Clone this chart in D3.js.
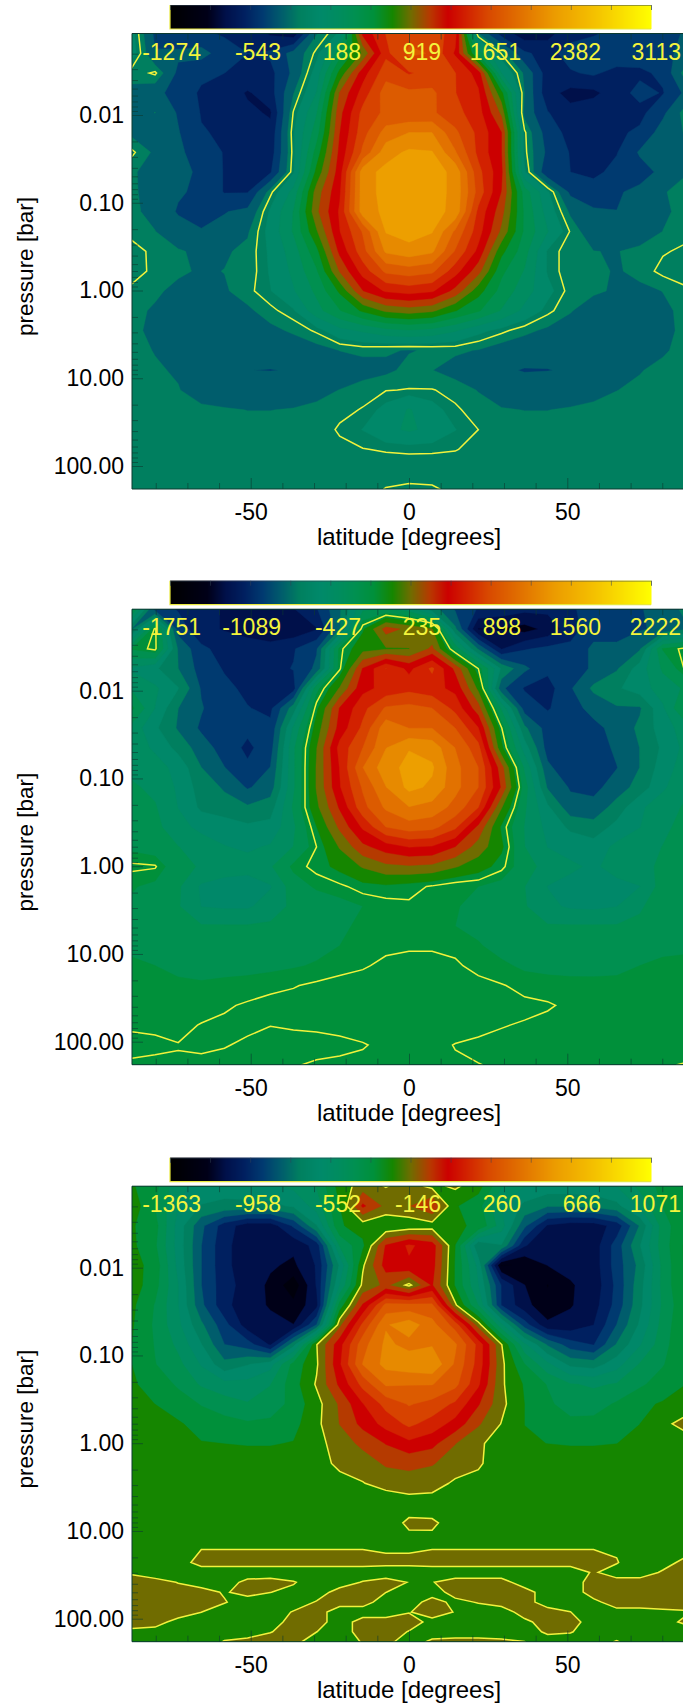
<!DOCTYPE html>
<html>
<head>
<meta charset="utf-8">
<script src="https://cdnjs.cloudflare.com/ajax/libs/d3/7.8.5/d3.min.js"></script>
<style>
  html, body { margin: 0; padding: 0; background: #fff; overflow: hidden; }
  text { font-family: "Liberation Sans", Arial, sans-serif; }
</style>
</head>
<body>
<div id="chart"></div>
<script>
/* grid the fields are read on */
const latitudes = [-87.5,-80.2,-72.9,-65.6,-58.3,-51,-43.8,-36.5,-29.2,-21.9,-14.6,-7.3,0,7.3,14.6,21.9,29.2,36.5,43.8,51,58.3,65.6,72.9,80.2,87.5];
const pressures = [0.00118,0.00198,0.00333,0.0056,0.0094,0.0158,0.0266,0.0447,0.0752,0.126,0.213,0.358,0.602,1.01,1.70,2.86,4.81,8.09,13.6,22.9,38.5,64.7,109,183];
// the bottom panel has thin layers, so it is read on a few more levels
const pressuresFine = [0.00118,0.00198,0.00333,0.0056,0.0094,0.0158,0.0266,0.0447,0.0752,0.126,0.213,0.358,0.602,1.01,1.70,2.86,4.81,8.09,13.6,22.9,29.7,38.5,49.9,64.7,84,109,141,183];

const latTicks = [-50,0,50];
const latMinor = [-80,-70,-60,-40,-30,-20,-10,10,20,30,40,60,70,80];
const pressureTicks = [0.01,0.1,1,10,100];

const labels1 = [-1274,-543,188,919,1651,2382,3113];
const labels2 = [-1751,-1089,-427,235,898,1560,2222];
const labels3 = [-1363,-958,-552,-146,260,666,1071];

/* value the yellow line follows in each panel */
const lineLevels = [0,0,-146];

const field1 = [
[120,-300,-380,-400,-450,-500,-620,-700,-100,100,1300,1600,1700,1700,1500,-100,-500,-700,-650,-500,-450,-380,-350,-300,-250],
[150,-250,-230,-200,-350,-430,-400,-200,30,500,950,1550,1800,1750,1400,500,-10,-400,-500,-350,-300,-280,-350,-300,-220],
[-60,20,-300,-400,-430,-450,-480,-220,150,800,1350,1700,1580,1650,1600,1350,250,-120,-520,-450,-400,-500,-460,-400,-10],
[-120,-200,-350,-450,-480,-620,-500,-100,250,1100,1500,1850,1800,1800,1600,1450,800,-100,-540,-650,-640,-500,-380,-440,-220],
[-150,-90,-280,-440,-500,-560,-620,10,400,1200,1650,1800,1780,1790,1650,1500,1050,-150,-420,-550,-480,-460,-480,-300,-20],
[-130,-180,-250,-420,-450,-500,-550,60,500,1250,1700,2000,2100,2100,1800,1550,1260,20,-350,-480,-560,-460,-400,-180,-80],
[20,-120,-230,-340,-440,-480,-520,40,650,1300,1800,2200,2300,2280,1950,1550,1260,30,-300,-440,-480,-440,-240,-150,-100],
[-70,-170,-200,-300,-440,-470,-450,60,800,1350,2200,2320,2350,2350,2220,1650,1300,100,-400,-430,-470,-380,-330,-220,-100],
[-50,-210,-240,-300,-440,-440,-30,300,1000,1400,2200,2320,2350,2350,2220,1700,1250,500,100,-300,-350,-280,-220,-100,-60],
[-70,-130,-280,-320,-270,-220,100,420,1050,1450,2200,2300,2350,2320,2230,1550,1150,550,170,-120,-240,-260,-220,-130,-30],
[-50,-90,-180,-250,-210,-110,130,430,900,1420,1780,2280,2350,2280,1900,1500,1050,550,250,-10,-200,-240,-200,-90,-30],
[60,-40,-80,-120,-110,-60,100,330,700,1300,1700,2130,2200,2130,1750,1380,800,480,60,-60,-90,-100,-50,-10,20],
[70,-40,-70,-110,-90,-60,90,280,560,1100,1500,1800,1850,1800,1500,1150,620,400,60,-60,-50,-110,-50,30,60],
[-40,-70,-130,-140,-110,-30,70,230,450,780,1250,1450,1500,1450,1200,820,520,320,120,-40,-60,-120,-130,-90,-20],
[-60,-110,-200,-210,-180,-120,-30,60,350,570,780,950,1000,950,760,600,400,200,30,-80,-200,-220,-220,-120,-60],
[-60,-130,-220,-230,-220,-190,-130,-70,20,190,270,360,400,360,260,120,30,-60,-120,-180,-210,-230,-240,-130,-60],
[-50,-100,-200,-230,-240,-230,-210,-190,-150,-90,-60,-80,-100,-80,-70,-100,-170,-190,-220,-230,-230,-220,-200,-110,-50],
[-50,-75,-110,-200,-230,-260,-265,-255,-230,-200,-160,-120,-60,-90,-150,-200,-240,-270,-265,-250,-220,-180,-100,-60,-50],
[-60,-70,-85,-170,-190,-200,-190,-170,-140,-90,-30,-5,5,5,-30,-100,-150,-190,-190,-170,-140,-95,-70,-60,-60],
[-50,-50,-55,-60,-80,-95,-95,-85,-60,-20,5,120,260,130,15,-40,-85,-95,-95,-80,-60,-55,-50,-50,-50],
[-50,-50,-50,-50,-50,-50,-50,-50,-40,10,80,200,270,200,80,0,-40,-50,-50,-50,-50,-50,-50,-50,-50],
[-50,-50,-50,-50,-50,-50,-50,-50,-40,-20,-5,10,15,15,5,-30,-40,-50,-50,-50,-50,-50,-50,-50,-50],
[-55,-55,-55,-55,-55,-55,-55,-55,-55,-55,-55,-60,-50,-60,-55,-55,-55,-55,-55,-55,-55,-55,-55,-55,-55],
[-50,-50,-50,-50,-50,-50,-50,-50,-50,-50,-50,5,20,15,-30,-50,-50,-50,-50,-50,-50,-50,-50,-50,-50]
];

const field2 = [
[-50,-900,-1000,-1100,-1150,-1200,-1200,-1150,-1000,-700,-250,-200,-300,-600,-850,-1000,-1050,-1100,-1100,-1000,-950,-900,-850,-750,-650],
[-700,30,-900,-1100,-1150,-1250,-1300,-1250,-1150,-700,60,450,350,250,-650,-1300,-1300,-1350,-1250,-1050,-900,-900,-850,-800,-700],
[-60,30,-700,-950,-1050,-1000,-1050,-1000,-850,-30,180,220,230,420,-120,-700,-1150,-1000,-950,-950,-800,-800,-700,-60,30],
[-400,-500,-680,-900,-1000,-1100,-1030,-980,-800,-20,550,850,650,880,500,0,-550,-800,-950,-950,-800,-700,-450,-200,20],
[-250,-350,-520,-850,-950,-1020,-1020,-1050,-120,250,650,740,800,750,650,200,-800,-1000,-1050,-850,-650,-550,-450,-300,-200],
[-40,-380,-680,-820,-950,-980,-1020,-600,50,550,800,1020,1050,1000,800,450,-250,-900,-1000,-900,-780,-700,-700,-400,-30],
[-280,-500,-700,-860,-950,-950,-950,-350,150,600,880,1250,1150,1150,1000,700,10,-650,-900,-950,-880,-780,-650,-450,-300],
[-300,-400,-580,-760,-900,-1020,-900,-250,230,750,1000,1300,1450,1400,1150,900,120,-450,-900,-950,-930,-800,-680,-500,-330],
[-270,-320,-420,-680,-830,-960,-830,-250,250,700,1150,1400,1500,1480,1200,1000,450,-250,-800,-950,-980,-840,-680,-450,-300],
[-200,-260,-400,-600,-700,-850,-760,-250,250,680,1020,1300,1500,1430,1200,1000,520,-150,-700,-850,-880,-760,-620,-400,-260],
[-180,-210,-380,-560,-620,-660,-600,-200,200,560,950,1180,1300,1250,1100,850,250,-200,-500,-780,-780,-620,-400,-300,-200],
[-130,-180,-320,-420,-440,-500,-480,-250,80,420,720,1000,1080,1050,880,500,60,-230,-420,-560,-620,-480,-380,-250,-180],
[-100,-140,-220,-290,-370,-400,-360,-220,0,250,500,620,700,680,540,320,110,-220,-380,-430,-460,-340,-280,-220,-160],
[20,10,-170,-240,-300,-320,-240,-40,30,120,250,350,370,350,250,150,30,-160,-280,-350,-400,-320,-260,-200,-130],
[-60,-100,-200,-400,-440,-450,-390,-140,-50,-20,40,60,30,-10,-60,-70,-120,-220,-380,-420,-440,-420,-380,-150,-90],
[-90,-160,-210,-380,-400,-400,-300,-190,-160,-110,-70,-40,-15,-20,-60,-110,-170,-210,-340,-400,-410,-380,-250,-110,-90],
[-130,-170,-200,-210,-210,-210,-200,-170,-100,-80,-60,-60,-70,-70,-70,-100,-180,-200,-210,-210,-210,-210,-180,-150,-120],
[-90,-110,-130,-150,-160,-160,-150,-130,-100,-70,-30,-20,-15,-15,-25,-60,-110,-150,-160,-160,-150,-130,-110,-90,-85],
[-55,-70,-90,-100,-100,-100,-95,-80,-60,-30,-10,20,40,40,15,-30,-50,-90,-100,-100,-95,-90,-70,-55,-50],
[-40,-50,-55,-60,-50,-40,-20,-5,15,30,40,50,60,60,50,30,5,-20,-35,-45,-50,-50,-45,-40,-40],
[-30,-30,-30,-25,-10,10,25,30,30,35,35,40,40,40,40,35,30,15,8,-15,-25,-30,-30,-30,-30],
[-5,-5,-15,3,15,10,1,5,8,12,20,25,30,30,25,15,3,-5,-20,-30,-30,-30,-30,-30,-30],
[10,5,2,8,3,-8,-15,-15,-15,-10,-3,10,20,15,-2,-10,-15,-20,-25,-25,-25,-25,-25,-25,-25],
[-5,-5,-5,-10,-15,-15,-15,-3,5,8,10,12,12,10,6,1,-5,-10,-10,-10,-10,-10,-10,-5,3]
];

const field3 = [
[-230,-300,-500,-550,-570,-560,-540,-500,-420,-200,-100,-150,-100,-170,-130,-200,-420,-520,-560,-560,-560,-520,-400,-300,-270],
[-180,-340,-520,-620,-640,-640,-640,-600,-480,-240,60,-80,-60,40,-230,-300,-520,-640,-700,-700,-680,-640,-500,-330,-260],
[-230,-300,-560,-780,-940,-1040,-1040,-880,-620,-250,-200,-230,-210,-190,-230,-250,-480,-780,-1000,-1040,-1040,-950,-700,-380,-250],
[-220,-320,-560,-800,-960,-1050,-1060,-1060,-950,-420,-260,50,150,90,-240,-700,-620,-980,-1060,-1060,-1040,-850,-620,-380,-220],
[-200,-280,-550,-800,-960,-1050,-1070,-1100,-980,-600,-160,80,120,80,-250,-550,-1180,-1170,-1080,-1060,-1040,-850,-680,-400,-220],
[-190,-300,-520,-800,-950,-1030,-1100,-1240,-980,-520,-120,-30,-170,50,-250,-520,-900,-1080,-1180,-1090,-1050,-870,-650,-400,-220],
[-220,-340,-520,-780,-960,-1050,-1090,-1150,-1020,-300,50,350,350,340,-130,-430,-900,-1050,-1150,-1090,-1030,-860,-640,-410,-250],
[-230,-350,-500,-690,-860,-1040,-1060,-1080,-800,-80,250,500,560,450,280,-100,-500,-850,-1060,-1050,-990,-800,-600,-390,-240],
[-240,-340,-450,-610,-800,-850,-1000,-650,-150,100,380,530,480,500,430,200,-140,-500,-720,-850,-900,-700,-530,-370,-240],
[-240,-330,-400,-530,-680,-620,-560,-300,-160,120,420,540,570,590,400,190,-120,-330,-500,-640,-660,-560,-420,-340,-250],
[-230,-270,-350,-440,-490,-490,-430,-280,-135,60,260,430,420,420,350,150,-130,-250,-340,-420,-440,-420,-350,-290,-240],
[-220,-240,-280,-340,-380,-420,-390,-300,-180,-40,130,260,330,290,210,50,-120,-240,-310,-390,-380,-320,-260,-230,-200],
[-210,-200,-230,-270,-300,-320,-310,-270,-170,-50,70,170,250,190,100,-40,-150,-240,-270,-300,-300,-270,-240,-170,-110],
[-210,-215,-225,-235,-240,-245,-245,-235,-180,-100,-30,45,110,70,-50,-130,-190,-235,-240,-245,-245,-240,-225,-200,-200],
[-200,-200,-200,-200,-200,-200,-200,-200,-175,-130,-100,-40,-30,-45,-100,-135,-190,-200,-200,-200,-200,-200,-200,-200,-200],
[-210,-210,-210,-210,-210,-210,-210,-210,-200,-170,-150,-110,-90,-110,-160,-170,-210,-210,-210,-210,-210,-210,-210,-210,-210],
[-210,-210,-210,-210,-210,-210,-210,-210,-210,-210,-210,-210,-190,-185,-210,-210,-210,-210,-210,-210,-210,-210,-210,-210,-210],
[-210,-210,-210,-210,-210,-210,-210,-210,-210,-210,-210,-190,-130,-135,-175,-210,-210,-210,-210,-210,-210,-210,-210,-210,-210],
[-215,-215,-180,-165,-165,-165,-165,-165,-165,-165,-165,-175,-175,-165,-165,-165,-165,-165,-165,-165,-165,-165,-210,-215,-215],
[-220,-225,-190,-110,-110,-110,-110,-110,-110,-110,-110,-120,-120,-110,-110,-110,-110,-110,-110,-110,-110,-140,-210,-180,-120],
[-160,-200,-200,-200,-200,-200,-200,-200,-200,-200,-200,-200,-200,-200,-200,-200,-200,-200,-200,-200,-135,-190,-190,-135,-100],
[-100,-110,-150,-190,-190,-120,-110,-140,-190,-190,-140,-110,-150,-150,-110,-110,-110,-190,-190,-190,-110,-110,-110,-110,-100],
[-100,-100,-110,-110,-155,-115,-145,-165,-190,-110,-110,-145,-190,-190,-110,-110,-110,-110,-190,-190,-110,-110,-110,-110,-100],
[-100,-100,-110,-115,-140,-190,-190,-190,-140,-110,-110,-190,-190,-110,-170,-140,-110,-110,-190,-190,-165,-110,-110,-110,-100],
[-100,-110,-110,-145,-190,-190,-190,-140,-110,-190,-190,-190,-150,-110,-150,-190,-190,-110,-110,-145,-190,-170,-170,-160,-155],
[-110,-120,-170,-190,-190,-190,-190,-110,-110,-190,-110,-110,-110,-170,-190,-190,-190,-165,-110,-110,-190,-190,-190,-175,-130],
[-165,-170,-190,-190,-190,-190,-150,-110,-145,-190,-110,-110,-150,-190,-190,-190,-190,-190,-130,-140,-190,-190,-190,-190,-190],
[-200,-200,-200,-200,-140,-120,-110,-120,-190,-190,-140,-120,-190,-130,-120,-120,-130,-145,-190,-190,-190,-140,-200,-200,-200]
];

/* colour table */
const colorStops = [0,0.077,0.115,0.154,0.192,0.23,0.27,0.31,0.346,0.385,0.423,0.4615,0.50,0.54,0.577,0.66,0.72,0.80,0.88,1];
const colorValues = ["#000000","#000018","#00104a","#002060","#003a70","#005c6c","#00805f","#00896a","#008c60","#009050","#00903a","#158600","#706c00","#b83800","#cc0000","#d84800","#e06c00","#ec9c00","#f4c000","#ffff00"];

const nLevels = 26;
const width = 683, height = 1705;

const plotLeft = 132, plotRight = 686, plotTop = 33.5, plotBottom = 489;
const tick001 = 115, tick100 = 466;
const panelOffsets = [0,575.7,1152.7];

const color = d3.scaleLinear().domain(colorStops).range(colorValues).interpolate(d3.interpolateRgb);

const x = d3.scaleLinear().domain([-87.5,87.5]).range([plotLeft,plotRight]);
const y = d3.scaleLog().domain([0.01,100]).range([tick001,tick100]);

/* grid index to data coordinates, runs past the ends so the clip trims the edge rings */
const colToLat = d3.scaleLinear().domain(d3.range(latitudes.length)).range(latitudes);

function makeGridPath(levelsP) {
  let rowToLog = d3.scaleLinear().domain(d3.range(levelsP.length)).range(levelsP.map(p => Math.log10(p)));
  return d3.geoPath(d3.geoTransform({
    point: function(px, py) {
      this.stream.point(x(colToLat(px - 0.5)), y(Math.pow(10, rowToLog(py - 0.5))));
    }
  }));
}

const svg = d3.select("#chart")
  .append("svg")
    .attr("width", width)
    .attr("height", height);

svg.append("defs")
  .append("clipPath")
    .attr("id", "plot-clip")
  .append("rect")
    .attr("x", plotLeft)
    .attr("y", plotTop)
    .attr("width", plotRight - plotLeft)
    .attr("height", plotBottom - plotTop);

drawPanel(field1, pressures, labels1, lineLevels[0], panelOffsets[0]);
drawPanel(field2, pressures, labels2, lineLevels[1], panelOffsets[1]);
drawPanel(field3, pressuresFine, labels3, lineLevels[2], panelOffsets[2]);

function drawPanel(field, levelsP, labels, lineLevel, offset) {
  let panel = svg.append("g").attr("transform", `translate(0, ${offset})`);

  let vMin = labels[0];
  let vMax = labels[labels.length - 1];
  let step = (vMax - vMin) / nLevels;
  let levels = d3.range(nLevels).map(k => vMin + k * step);
  let values = field.flat();

  let contours = d3.contours().size([latitudes.length, levelsP.length]);
  let gridPath = makeGridPath(levelsP);

  let plot = panel.append("g").attr("clip-path", "url(#plot-clip)");

  plot.selectAll("path.band")
    .data(contours.thresholds(levels)(values))
    .enter()
    .append("path")
      .attr("class", "band")
      .attr("d", gridPath)
      .attr("fill", d => color((d.value - vMin) / (vMax - vMin)))
      .attr("stroke", d => color((d.value - vMin) / (vMax - vMin)))
      .attr("stroke-width", 0.4);

  // the single yellow contour
  plot.append("path")
    .datum(contours.thresholds([lineLevel])(values)[0])
    .attr("d", gridPath)
    .attr("fill", "none")
    .attr("stroke", "#f2f23c")
    .attr("stroke-width", 1.5);

  drawColorBar(panel);
  drawAxes(panel);

  // numbers that sit along the top of the plot
  panel.append("g")
    .selectAll("text")
    .data(labels)
    .enter()
    .append("text")
      .attr("x", (d, i) => 201 + i * 80)
      .attr("y", 59.5)
      .attr("text-anchor", "end")
      .attr("font-size", 23)
      .attr("fill", "#f4f43c")
      .text(d => d);
}

function drawColorBar(panel) {
  let barScale = d3.scaleLinear().domain([0,1]).range([170,651]);
  let barTop = 5, barHeight = 24;

  panel.append("g")
    .selectAll("rect")
    .data(d3.range(0, 1, 1/481))
    .enter()
    .append("rect")
      .attr("x", d => barScale(d))
      .attr("y", barTop)
      .attr("width", 1.5)
      .attr("height", barHeight)
      .attr("fill", d => color(d));

  // yellow left and bottom edge
  panel.append("path")
    .attr("d", d3.line()([[barScale(0), barTop], [barScale(0), barTop + barHeight], [barScale(1), barTop + barHeight]]))
    .attr("fill", "none")
    .attr("stroke", "#e8e83c")
    .attr("stroke-width", 1.2);

  let barAxis = panel.append("g")
    .attr("transform", `translate(0, ${barTop})`)
    .call(d3.axisTop(barScale).tickValues(d3.range(13).map(i => i / 12)).tickSize(-5).tickFormat(""));
  barAxis.select(".domain").attr("stroke", "#345").attr("stroke-opacity", 0.5);
  barAxis.selectAll("line").attr("stroke", "#345").attr("stroke-opacity", 0.5);
}

function drawAxes(panel) {
  let inkColor = "#0c3a30";
  let axisGroups = [];

  // bottom axis with labels
  let bottom = panel.append("g")
    .attr("transform", `translate(0, ${plotBottom})`)
    .call(d3.axisBottom(x).tickValues(latTicks).tickSize(-11).tickPadding(15).tickFormat(d => d));
  bottom.selectAll("text").attr("font-size", 23).attr("fill", "#000").style("font-family", '"Liberation Sans", Arial, sans-serif');
  axisGroups.push(bottom);

  axisGroups.push(panel.append("g")
    .attr("transform", `translate(0, ${plotBottom})`)
    .call(d3.axisBottom(x).tickValues(latMinor).tickSize(-6).tickFormat("")));

  axisGroups.push(panel.append("g")
    .attr("transform", `translate(0, ${plotTop})`)
    .call(d3.axisTop(x).tickValues(latTicks).tickSize(-11).tickFormat("")));

  axisGroups.push(panel.append("g")
    .attr("transform", `translate(0, ${plotTop})`)
    .call(d3.axisTop(x).tickValues(latMinor).tickSize(-6).tickFormat("")));

  // left axis, decades plus log minor ticks
  let left = panel.append("g")
    .attr("transform", `translate(${plotLeft}, 0)`)
    .call(d3.axisLeft(y).tickValues(pressureTicks).tickSize(-11).tickPadding(8).tickFormat(d3.format(".2f")));
  left.selectAll("text").attr("font-size", 23).attr("fill", "#000").style("font-family", '"Liberation Sans", Arial, sans-serif');
  axisGroups.push(left);

  let minorValues = [];
  [0.001,0.01,0.1,1,10,100].forEach(decade => {
    d3.range(2, 10).forEach(m => {
      let v = decade * m;
      if (y(v) > plotTop && y(v) < plotBottom) minorValues.push(v);
    });
  });
  axisGroups.push(panel.append("g")
    .attr("transform", `translate(${plotLeft}, 0)`)
    .call(d3.axisLeft(y).tickValues(minorValues).tickSize(-6).tickFormat("")));

  axisGroups.forEach(g => {
    g.selectAll("line").attr("stroke", inkColor).attr("stroke-opacity", 0.6);
    g.select(".domain").attr("stroke", "none");
  });

  // plot frame
  panel.append("path")
    .attr("d", d3.line()([[plotRight, plotTop], [plotLeft, plotTop], [plotLeft, plotBottom], [plotRight, plotBottom]]))
    .attr("fill", "none")
    .attr("stroke", inkColor)
    .attr("stroke-width", 1);

  panel.append("text")
    .attr("x", x(0))
    .attr("y", 545)
    .attr("text-anchor", "middle")
    .attr("font-size", 24)
    .attr("fill", "#000")
    .text("latitude [degrees]");

  panel.append("text")
    .attr("transform", "translate(33, 266.5) rotate(-90)")
    .attr("text-anchor", "middle")
    .attr("font-size", 22.5)
    .attr("fill", "#000")
    .text("pressure [bar]");
}
</script>
</body>
</html>
